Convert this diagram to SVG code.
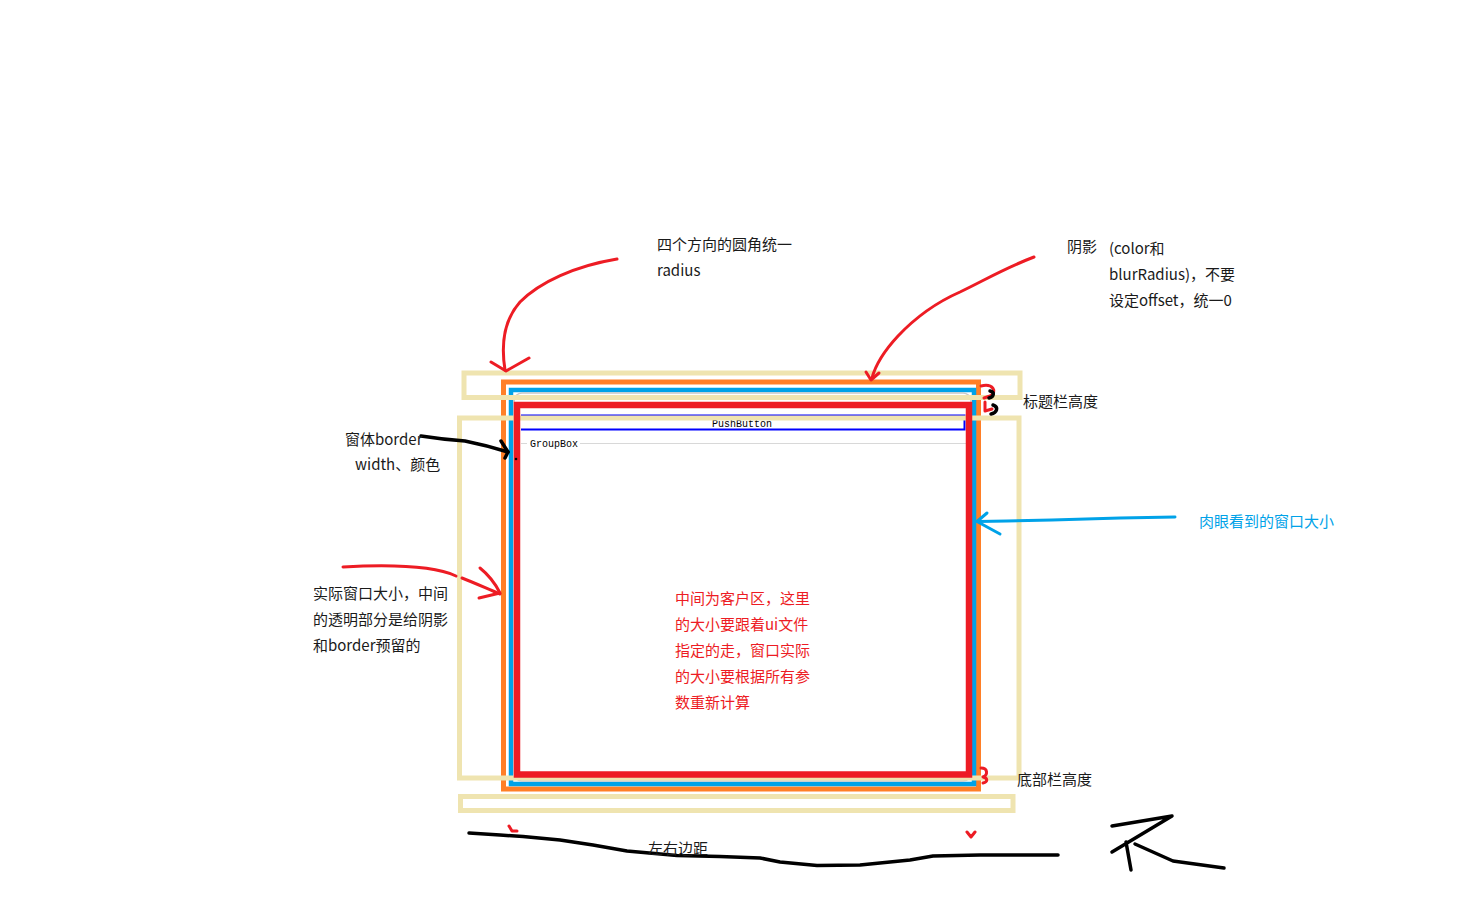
<svg xmlns="http://www.w3.org/2000/svg" width="1477" height="900" viewBox="0 0 1477 900">
<style>
text{font-family:"Microsoft YaHei","Noto Sans CJK SC","Noto Sans",sans-serif;font-size:15px;fill:#1a1a1a}
.red{fill:#ED1C24}
.blue{fill:#00A2E8}
.mono{font-family:"Liberation Mono","DejaVu Sans Mono",monospace;font-size:10px;fill:#000}
.tan{fill:none;stroke:#EFE4B0;stroke-width:5}
.ink{fill:none;stroke-linecap:round;stroke-linejoin:round}
.r{stroke:#ED1C24;stroke-width:3}
.k{stroke:#000;stroke-width:3.5}
.b{stroke:#00A2E8;stroke-width:3}
</style>
<rect width="1477" height="900" fill="#fff"/>
<g id="window">
<rect x="503.5" y="382" width="475" height="407" fill="none" stroke="#FF7F27" stroke-width="5"/>
<rect x="511" y="390" width="463" height="394" fill="none" stroke="#00A2E8" stroke-width="4.5"/>
<rect x="514" y="393" width="457" height="388" rx="8" fill="#fff" stroke="#c8c8c8" stroke-width="1.5"/>
</g>
<g id="pushbutton">
<path d="M521,415.5 H964.5 V429.5 H521" fill="none" stroke="#0000FF" stroke-width="2"/>
<text class="mono" x="742" y="427" text-anchor="middle">PushButton</text>
</g>
<g id="groupbox">
<path d="M521,443.5 H527 M580,443.5 H966" stroke="#d8d8d8" stroke-width="1.2"/>
<text class="mono" x="530" y="447">GroupBox</text>
</g>
<g id="tan-boxes">
<rect class="tan" x="464" y="373" width="556" height="24.5"/>
<rect class="tan" x="459.5" y="418" width="559.5" height="360"/>
<rect class="tan" x="460.5" y="796.5" width="552.5" height="14"/>
</g>
<g id="client">
<rect x="517" y="405" width="452" height="369.5" fill="none" stroke="#ED1C24" stroke-width="6.5"/>
<text class="red" x="675" y="604">中间为客户区，这里</text>
<text class="red" x="675" y="630">的大小要跟着ui文件</text>
<text class="red" x="675" y="656">指定的走，窗口实际</text>
<text class="red" x="675" y="682">的大小要根据所有参</text>
<text class="red" x="675" y="708">数重新计算</text>
</g>
<g id="connectors">
<path class="ink r" d="M617,259 C575,266 540,282 520,302 C504,320 501,345 505,370"/>
<path class="ink r" d="M491,362 L506,371 L529,358"/>
<path class="ink r" d="M1034,257 C1005,268 985,280 960,292 C935,303 915,318 898,336 C885,350 876,363 872,378"/>
<path class="ink r" d="M866,372 L871,380 L879,373"/>
<path class="ink r" d="M981,386 C993,383 998,392 990,396 L984,398 M985,402 L985,411 L992,409"/>
<path class="ink k" stroke-width="2" d="M990,391 C995,392 994,397 989,398 M993,405 C999,407 997,413 991,414"/>
<path class="ink r" d="M981,768 C988,768 988,775 983,777 C988,778 988,782 983,783"/>
<path class="ink r" d="M343,567 C380,565 430,564 456,576 M462,578 C475,583 490,590 500,594"/>
<path class="ink r" d="M480,568 C490,576 496,585 500,593 L479,598"/>
<path class="ink k" d="M421,436 C440,439 450,440 465,441 C480,444 495,448 508,452"/>
<path class="ink k" d="M501,441 L508,452 L505,458"/>
<circle cx="516" cy="459" r="1.3" fill="#000"/>
<path class="ink b" d="M1175,517 L1120,518 L1052,520 L1007,521 L978,521.5"/>
<path class="ink b" d="M987,513 L977,521.5 L1000,534"/>
<path class="ink k" d="M469,833 L500,835 L523,836.5 L560,840 L593,845 L627,851 L677,855.5 L720,856.5 L760,858 L780,862 L817,865.5 L860,865 L910,860 L933,856 L980,855 L1058,855"/>
<path class="ink r" d="M509,826 L512,831 L517,831 M967,832 L971,837 L975,832"/>
<path class="ink k" d="M1112,826 L1172,816 L1112,852 M1126,842 L1131,870 M1135,844 L1173,861 L1224,868"/>
</g>
<g id="labels">
<text x="657" y="250">四个方向的圆角统一</text>
<text x="657" y="276">radius</text>
<text x="1067" y="252">阴影</text>
<text x="1109" y="254">(color和</text>
<text x="1109" y="280">blurRadius)，不要</text>
<text x="1109" y="306">设定offset，统一0</text>
<text x="1023" y="407">标题栏高度</text>
<text x="345" y="445">窗体border</text>
<text x="355" y="470">width、颜色</text>
<text class="blue" x="1199" y="527">肉眼看到的窗口大小</text>
<text x="313" y="599">实际窗口大小，中间</text>
<text x="313" y="625">的透明部分是给阴影</text>
<text x="313" y="651">和border预留的</text>
<text x="1017" y="785">底部栏高度</text>
<text x="648" y="854">左右边距</text>
</g>
</svg>
